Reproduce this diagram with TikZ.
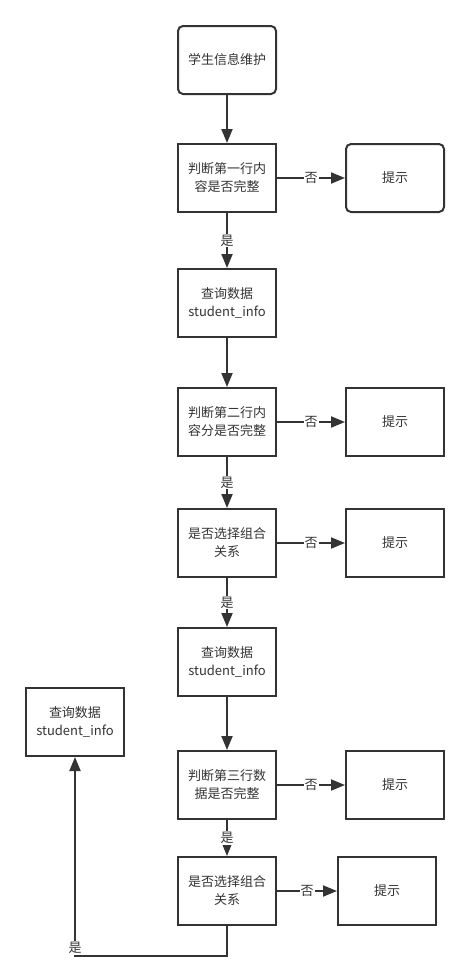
\documentclass[tikz,border=0pt]{standalone}
\usepackage{fontspec}
\setmainfont{Noto Sans CJK SC}
\usetikzlibrary{arrows.meta}
\definecolor{ink}{HTML}{333333}
\tikzset{
  box/.style={draw=ink, line width=2pt, minimum width=98pt, minimum height=68pt, inner sep=2pt,
    align=center, text=ink, font=\fontsize{13pt}{18pt}\selectfont},
  rbox/.style={box, rounded corners=5pt},
  conn/.style={draw=ink, line width=2pt, -{Triangle[length=14pt,width=11pt]}},
  lbl/.style={fill=white, text=ink, inner sep=1pt, font=\fontsize{13pt}{14pt}\selectfont},
}
\begin{document}
\begin{tikzpicture}[x=1pt,y=-1pt]
\useasboundingbox (0,0) rectangle (470,980);
\node[rbox] (a) at (227,60) {学生信息维护};
\node[box] (b) at (227,178) {判断第一行内\\容是否完整};
\node[rbox] (bp) at (395,178) {提示};
\node[box] (c) at (227,303) {查询数据\\student\_info};
\node[box] (d) at (227,422) {判断第二行内\\容分是否完整};
\node[box] (dp) at (395,422) {提示};
\node[box] (e) at (227,543) {是否选择组合\\关系};
\node[box] (ep) at (395,543) {提示};
\node[box] (f) at (227,662) {查询数据\\student\_info};
\node[box] (g) at (227,785) {判断第三行数\\据是否完整};
\node[box] (gp) at (395,785) {提示};
\node[box] (h) at (227,891) {是否选择组合\\关系};
\node[box] (hp) at (387,891) {提示};
\node[box] (k) at (75,722) {查询数据\\student\_info};
\coordinate (corner) at (75,956);

\draw[conn] (a) -- (b);
\draw[conn] (b) -- node[lbl]{否} (bp);
\draw[conn] (b) -- node[lbl]{是} (c);
\draw[conn] (c) -- (d);
\draw[conn] (d) -- node[lbl]{否} (dp);
\draw[conn] (d) -- node[lbl]{是} (e);
\draw[conn] (e) -- node[lbl]{否} (ep);
\draw[conn] (e) -- node[lbl]{是} (f);
\draw[conn] (f) -- (g);
\draw[conn] (g) -- node[lbl]{否} (gp);
\draw[conn] (g) -- node[lbl]{是} (h);
\draw[conn] (h) -- node[lbl]{否} (hp);
\draw[conn] (h.south) |- (corner) -- (k.south);
\node[lbl] (yes) at (75,948) {是};
\end{tikzpicture}
\end{document}
